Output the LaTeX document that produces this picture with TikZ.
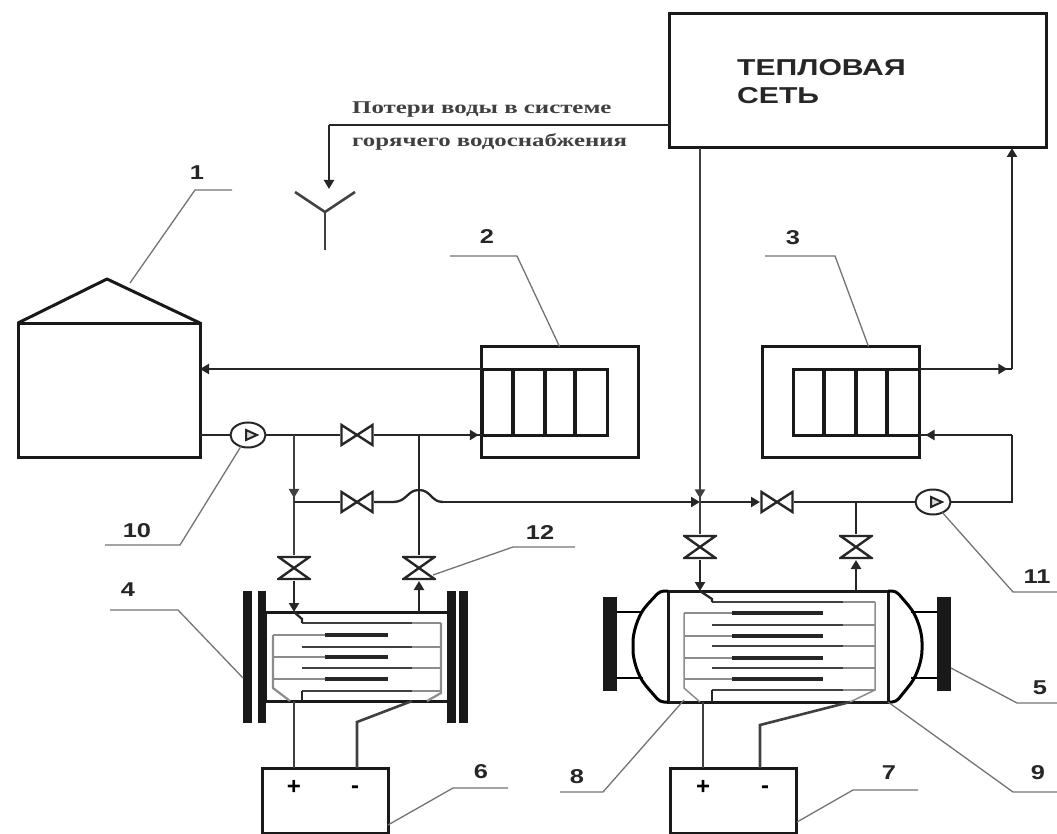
\documentclass[tikz,border=0pt]{standalone}
\usepackage{fontspec}
\setmainfont{Liberation Serif}
\setsansfont{Liberation Sans}
\newfontfamily\captionfont[FakeStretch=1.38]{Liberation Serif}
\newfontfamily\wideSans[FakeStretch=1.27]{Liberation Sans}
\newfontfamily\netSans[FakeStretch=1.31]{Liberation Sans}
\usetikzlibrary{positioning, arrows.meta, shapes.geometric, decorations.markings}

\begin{document}
\begin{tikzpicture}[
                x=1pt, y=-1pt,
                % Box Styles
                mainBox/.style = {rectangle, draw=black!90, line width=3pt, inner sep=0pt, outer sep=0pt},
                srcBox/.style = {mainBox, minimum width=126pt, minimum height=65pt},
                flangeBar/.style = {rectangle, fill=black!90, inner sep=0pt, outer sep=0pt},
                % Fittings
                valveH/.style = {rectangle, inner sep=0pt, outer sep=0pt, minimum width=34pt, minimum height=24pt, fill=white,
                    path picture={\draw[line width=2.4pt, line join=miter, draw=black!85]
                        ([shift={(1.5pt,-2pt)}]path picture bounding box.north west) --
                        ([shift={(-1.5pt,2pt)}]path picture bounding box.south east) --
                        ([shift={(-1.5pt,-2pt)}]path picture bounding box.north east) --
                        ([shift={(1.5pt,2pt)}]path picture bounding box.south west) -- cycle;}},
                valveV/.style = {rectangle, inner sep=0pt, outer sep=0pt, minimum width=34pt, minimum height=26pt, fill=white,
                    path picture={\draw[line width=2.4pt, line join=miter, draw=black!85]
                        ([shift={(1.5pt,-2pt)}]path picture bounding box.north west) --
                        ([shift={(-1.5pt,-2pt)}]path picture bounding box.north east) --
                        ([shift={(1.5pt,2pt)}]path picture bounding box.south west) --
                        ([shift={(-1.5pt,2pt)}]path picture bounding box.south east) -- cycle;}},
                pumpNode/.style = {ellipse, draw=black!85, line width=2pt, inner sep=0pt, outer sep=0pt, minimum width=35pt, minimum height=25pt, fill=white,
                    path picture={\draw[line width=2pt, fill=black!15]
                        ([shift={(-2pt,5pt)}]path picture bounding box.center) -- ++(0pt,-10pt) -- ++(11pt,5pt) -- cycle;}},
                % Text Styles
                numLabel/.style = {font=\wideSans\bfseries\fontsize{20pt}{20pt}\selectfont, inner sep=0pt, text=black!85},
                signLabel/.style = {font=\sffamily\bfseries\fontsize{24pt}{24pt}\selectfont, inner sep=0pt},
                netLabel/.style = {font=\netSans\bfseries\fontsize{23pt}{28pt}\selectfont, inner sep=0pt, align=left, anchor=north west, text=black!85},
                capLabel/.style = {font=\captionfont\bfseries\fontsize{18pt}{18pt}\selectfont, inner sep=0pt, anchor=west, text=black!75},
                % Line Styles
                pipeLine/.style = {line width=2.3pt, draw=black!85},
                wireLine/.style = {line width=2.6pt, draw=black!75},
                dataLine/.style = {pipeLine, -{Stealth[inset=0pt, length=9pt, width=10pt]}},
                leaderLine/.style = {line width=1.3pt, draw=black!55},
                railLine/.style = {line width=1.5pt, draw=black!45},
                plateLine/.style = {line width=3.4pt, draw=black!85},
                plateLong/.style = {line width=2.8pt, draw=black!75},
                tipAt/.style = {postaction={decorate}, decoration={markings, mark=at position #1 with {\arrow{Stealth[inset=0pt, length=9pt, width=10pt]}}}}
            ]
                \useasboundingbox (0,0) rectangle (1057,834);

                % ==========================================
                % MAIN EQUIPMENT
                % ==========================================
                \node[mainBox, minimum width=377pt, minimum height=134pt] (HeatNet) at (858,81) {};
                \node[netLabel] (NetText) at (737,59) {ТЕПЛОВАЯ\\СЕТЬ};

                \node[mainBox, minimum width=182pt, minimum height=134pt] (Tank) at (109,390) {};
                \coordinate (TankApex) at (107,279);
                \draw[line width=3pt, draw=black!90, line join=round] (Tank.north west) -- (TankApex) -- (Tank.north east);

                \node[mainBox, minimum width=157pt, minimum height=111pt] (HxA) at (559.5,402) {};
                \node[mainBox, minimum width=125pt, minimum height=66pt] (CoilA) at (544.5,402) {};
                \node[mainBox, minimum width=157pt, minimum height=111pt] (HxB) at (840.5,402) {};
                \node[mainBox, minimum width=126pt, minimum height=66pt] (CoilB) at (856,402) {};
                \foreach \x in {513,545,575} {\draw[line width=3.2pt, draw=black!90] (\x,369) -- (\x,435);}
                \foreach \x in {824,856,887} {\draw[line width=3.2pt, draw=black!90] (\x,369) -- (\x,435);}

                % Boiler with plain end covers
                \node[mainBox, minimum width=183pt, minimum height=89pt] (BoilerA) at (356.5,656.5) {};
                \node[flangeBar, minimum width=8.5pt, minimum height=132pt, left=-1pt of BoilerA] (FlangeA2) {};
                \node[flangeBar, minimum width=9pt, minimum height=132pt, left=6pt of FlangeA2] (FlangeA1) {};
                \node[flangeBar, minimum width=9pt, minimum height=132pt, right=-1pt of BoilerA] (FlangeA3) {};
                \node[flangeBar, minimum width=9pt, minimum height=132pt, right=3pt of FlangeA3] (FlangeA4) {};

                % Boiler with domed end covers
                \node[mainBox, minimum width=220pt, minimum height=111pt] (BoilerB) at (778,646.5) {};
                \node[flangeBar, minimum width=14pt, minimum height=94pt] (FlangeB1) at (610,644) {};
                \node[flangeBar, minimum width=14pt, minimum height=94pt] (FlangeB2) at (944,644) {};
                \draw[line width=3pt, rounded corners=4pt] (BoilerB.north west) -- (660,591) -- (646,606) .. controls (638,617) and (633,632) .. (633,646) .. controls (633,660) and (638,675) .. (646,686) -- (660,702) -- (BoilerB.south west);
                \draw[line width=3pt, rounded corners=4pt] (BoilerB.north east) -- (896,591) -- (909,606) .. controls (917,617) and (922,632) .. (922,646) .. controls (922,660) and (917,675) .. (909,686) -- (896,702) -- (BoilerB.south east);
                \foreach \y in {612,678} {
                    \draw[line width=2.4pt] (617,\y) -- (643,\y);
                    \draw[line width=2.4pt] (911,\y) -- (937,\y);
                }

                \node[srcBox] (SrcA) at (325,800.5) {};
                \node[srcBox] (SrcB) at (733.5,800.5) {};
                \node[signLabel] (PlusA) at (294,787) {+};
                \node[signLabel] (MinusA) at (355,790) {-};
                \node[signLabel] (PlusB) at (703,787) {+};
                \node[signLabel] (MinusB) at (765,790) {-};

                % ==========================================
                % ELECTRODE PLATES
                % ==========================================
                \draw[railLine, line width=2.2pt] (290,701) -- (273,688) -- (273,635);
                \draw[railLine, line width=2.2pt] (427,701) -- (441,693) -- (441,623);
                \foreach \y in {635,657,679} {
                    \draw[railLine] (273,\y) -- (325,\y);
                    \draw[plateLine] (325,\y) -- (388,\y);
                }
                \foreach \y in {623,647,668,691} {
                    \draw[railLine] (412,\y) -- (441,\y);
                    \draw[plateLong] (302,\y) -- (412,\y);
                }
                \draw[pipeLine] (294,612) -- (302,619) -- (302,623);
                \draw[pipeLine] (302,701) -- (302,691);

                \draw[railLine] (700,702) -- (684,688) -- (684,613);
                \draw[railLine] (850,702) -- (875,690) -- (875,602);
                \foreach \y in {613,636,658,679} {
                    \draw[railLine] (684,\y) -- (732,\y);
                    \draw[plateLine] (732,\y) -- (823,\y);
                }
                \foreach \y in {602,625,646,668,690} {
                    \draw[railLine] (843,\y) -- (875,\y);
                    \draw[plateLong] (712,\y) -- (843,\y);
                }
                \draw[pipeLine] (700,591) -- (712,599) -- (712,602);
                \draw[pipeLine] (712,702) -- (712,690);

                % ==========================================
                % VALVES AND PUMPS
                % ==========================================
                \node[pumpNode] (PumpA) at (248,435) {};
                \node[pumpNode] (PumpB) at (933,502) {};
                \node[valveH] (VlvTop) at (357,435) {};
                \node[valveH] (VlvMid) at (357,502) {};
                \node[valveH] (VlvRet) at (777,502) {};
                \node[valveV] (VlvBA1) at (294,568) {};
                \node[valveV] (VlvBA2) at (419,568) {};
                \node[valveV] (VlvBB1) at (700,547) {};
                \node[valveV] (VlvBB2) at (856,547) {};

                % ==========================================
                % PIPE ROUTING
                % ==========================================
                \coordinate (TeeL) at (294,435);
                \coordinate (TeeR) at (419,435);
                \coordinate (JunL) at (294,502);
                \coordinate (JunN) at (700,502);
                \coordinate (TeeB) at (856,502);
                \coordinate (HopIn) at (393,502);
                \coordinate (HopOut) at (443,502);
                \coordinate (CornerUp) at (1012,369);
                \coordinate (CornerRet) at (1012,435);
                \coordinate (CornerPump) at (1012,502);
                \coordinate (DrainBend) at (329,125);
                \coordinate (DrainEnd) at (329,189);
                \coordinate (NetTap) at (700,148);

                % Tank loop
                \path[dataLine] (HxA.west |- CoilA.north) -- (Tank.east |- CoilA.north);
                \draw[pipeLine] (Tank.east |- PumpA) -- (PumpA);
                \draw[pipeLine] (PumpA) -- (VlvTop);
                \draw[pipeLine, tipAt=0.97] (VlvTop) -- (CoilA.south west);
                \draw[wireLine, tipAt=0.94] (TeeL) -- (JunL);
                \draw[wireLine] (JunL) -- (VlvBA1);
                \draw[pipeLine] (TeeR) -- (VlvBA2);
                \path[dataLine] (VlvBA1) -- (VlvBA1 |- BoilerA.north);
                \path[dataLine] (VlvBA2 |- BoilerA.north) -- (VlvBA2);

                % Make-up line with hop over the riser
                \draw[pipeLine] (JunL) -- (VlvMid);
                \draw[pipeLine] (VlvMid) -- (HopIn) .. controls (407,502) and (407,490) .. (419,490) .. controls (431,490) and (431,502) .. (HopOut);
                \path[dataLine] (HopOut) -- (JunN);
                \path[dataLine] (JunN) -- (VlvRet);
                \draw[pipeLine] (VlvRet) -- (PumpB);
                \draw[pipeLine] (PumpB) -- (CornerPump) -- (CornerRet);
                \draw[pipeLine, tipAt=0.93] (CornerRet) -- (CoilB.south east);
                \draw[pipeLine] (TeeB) -- (VlvBB2);
                \path[dataLine] (VlvBB2 |- BoilerB.north) -- (VlvBB2);

                % Network supply and return
                \draw[wireLine, tipAt=0.99] (NetTap) -- (JunN);
                \draw[wireLine] (JunN) -- (VlvBB1);
                \path[dataLine] (VlvBB1) -- (VlvBB1 |- BoilerB.north);
                \draw[pipeLine, tipAt=0.95] (CoilB.north east) -- (CornerUp);
                \path[dataLine] (CornerUp) -- (NetTap -| CornerUp);

                % Losses to the drain
                \draw[pipeLine] (HeatNet.west |- DrainBend) -- (DrainBend);
                \path[dataLine, line width=2.8pt] (DrainBend) -- (DrainEnd);
                \coordinate (DrainL) at (295,192);
                \coordinate (DrainM) at (325,212);
                \coordinate (DrainR) at (355,192);
                \coordinate (DrainB) at (325,250);
                \draw[wireLine] (DrainL) -- (DrainM) -- (DrainR);
                \draw[wireLine] (DrainM) -- (DrainB);
                \node[capLabel] (LossTop) at (352,110) {Потери воды в системе};
                \node[capLabel] (LossBot) at (352,142) {горячего водоснабжения};

                % Supply wires
                \coordinate (TapA) at (412,701);
                \coordinate (TapB) at (850,702);
                \coordinate (BendA) at (357,722);
                \coordinate (BendB) at (760,725);
                \draw[wireLine] (BoilerA.south -| PlusA) -- (SrcA.north -| PlusA);
                \draw[wireLine] (TapA) -- (BendA) -- (SrcA.north -| BendA);
                \draw[wireLine] (BoilerB.south -| PlusB) -- (SrcB.north -| PlusB);
                \draw[wireLine] (TapB) -- (BendB) -- (SrcB.north -| BendB);

                % ==========================================
                % NUMBER LABELS AND LEADERS
                % ==========================================
                \node[numLabel] (Lbl1) at (197,173) {1};
                \node[numLabel] (Lbl2) at (487,237) {2};
                \node[numLabel] (Lbl3) at (793,238) {3};
                \node[numLabel] (Lbl4) at (128,590) {4};
                \node[numLabel] (Lbl5) at (1040,688) {5};
                \node[numLabel] (Lbl6) at (481,772) {6};
                \node[numLabel] (Lbl7) at (889,773) {7};
                \node[numLabel] (Lbl8) at (577,777) {8};
                \node[numLabel] (Lbl9) at (1038,773) {9};
                \node[numLabel] (Lbl10) at (137,531) {10};
                \node[numLabel] (Lbl11) at (1037,577) {11};
                \node[numLabel] (Lbl12) at (540,533) {12};

                \coordinate (Lead1a) at (232,190);   \coordinate (Lead1b) at (195,190);   \coordinate (Lead1c) at (130,283);
                \coordinate (Lead2a) at (450,256);   \coordinate (Lead2b) at (517,256);
                \coordinate (Lead3a) at (765,256);   \coordinate (Lead3b) at (835,256);
                \coordinate (Lead4a) at (110,610);   \coordinate (Lead4b) at (178,610);   \coordinate (Lead4c) at (243,678);
                \coordinate (Lead5a) at (1057,703);  \coordinate (Lead5b) at (1017,703);  \coordinate (Lead5c) at (951,668);
                \coordinate (Lead6a) at (508,788);   \coordinate (Lead6b) at (453,788);   \coordinate (Lead6c) at (388,825);
                \coordinate (Lead7a) at (918,790);   \coordinate (Lead7b) at (853,790);   \coordinate (Lead7c) at (797,822);
                \coordinate (Lead8a) at (560,792);   \coordinate (Lead8b) at (603,792);   \coordinate (Lead8c) at (684,700);
                \coordinate (Lead9a) at (1057,792);  \coordinate (Lead9b) at (1013,792);
                \coordinate (Lead10a) at (105,545);  \coordinate (Lead10b) at (180,545);
                \coordinate (Lead11a) at (1057,592); \coordinate (Lead11b) at (1013,592);
                \coordinate (Lead12a) at (575,547);  \coordinate (Lead12b) at (513,547);  \coordinate (Lead12c) at (433,575);

                \draw[leaderLine] (Lead1a) -- (Lead1b) -- (Lead1c);
                \draw[leaderLine] (Lead2a) -- (Lead2b) -- (HxA.north);
                \draw[leaderLine] (Lead3a) -- (Lead3b) -- ([xshift=28pt]HxB.north);
                \draw[leaderLine] (Lead4a) -- (Lead4b) -- (Lead4c);
                \draw[leaderLine] (Lead5a) -- (Lead5b) -- (Lead5c);
                \draw[leaderLine] (Lead6a) -- (Lead6b) -- (Lead6c);
                \draw[leaderLine] (Lead7a) -- (Lead7b) -- (Lead7c);
                \draw[leaderLine] (Lead8a) -- (Lead8b) -- (Lead8c);
                \draw[leaderLine] (Lead9a) -- (Lead9b) -- (BoilerB.south east);
                \draw[leaderLine] (Lead10a) -- (Lead10b) -- (PumpA);
                \draw[leaderLine] (Lead11a) -- (Lead11b) -- (PumpB);
                \draw[leaderLine] (Lead12a) -- (Lead12b) -- (Lead12c);

            \end{tikzpicture}
\end{document}
